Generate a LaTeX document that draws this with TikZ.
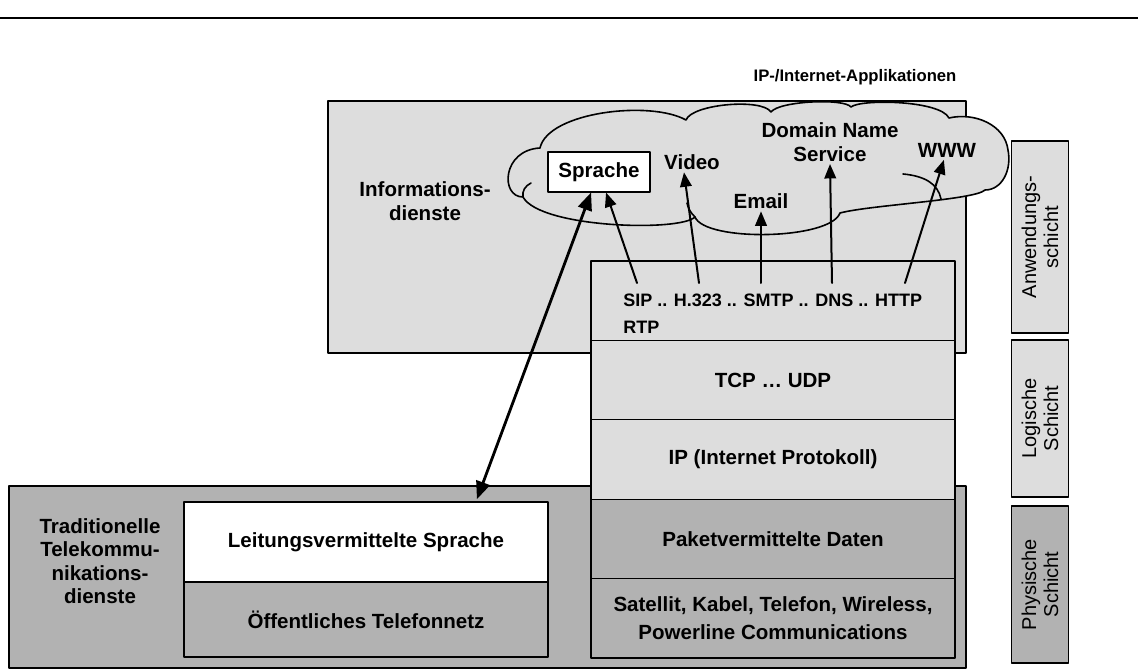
\documentclass[tikz,border=0pt]{standalone}
\usepackage{fontspec}
\setmainfont{Liberation Sans}
\usetikzlibrary{arrows}
\definecolor{schichthell}{HTML}{DDDDDD}
\definecolor{schichtdunkel}{HTML}{B2B2B2}
\begin{document}
\begin{tikzpicture}[line cap=round,line join=round,>=triangle 45,x=0.75pt,y=-0.75pt,
	lbl/.style={font=\fontsize{15.4}{17.5}\selectfont\bfseries,align=center,inner sep=2pt},
	layer/.style={draw,line width=1pt,minimum width=273pt,minimum height=59.55pt,font=\fontsize{15.4}{21}\selectfont\bfseries,align=center},
	sidebox/.style={draw,line width=1pt,rotate=90,minimum height=42.75pt,font=\fontsize{15}{16.5}\selectfont,align=center,inner sep=1pt},
	pfeil/.style={->,line width=1.5pt}]
	\useasboundingbox (0,0) rectangle (1138,670);
	\draw [line width=2pt] (0,18) -- (1138,18);
	\draw [line width=1.2pt,fill=schichthell] (328,101) rectangle (966,353);
	\draw [line width=1.2pt,fill=schichtdunkel] (9,486) rectangle (966,668);
	\draw [line width=1.2pt,fill=schichthell] (523,197) .. controls (500,197) and (502,150) .. (540,148)
		.. controls (548,112) and (650,100) .. (686,120)
		.. controls (692,104) and (762,98) .. (771,112)
		.. controls (779,101) and (844,98) .. (851,107)
		.. controls (860,99) and (940,100) .. (949,118)
		.. controls (975,112) and (1005,125) .. (1008,150)
		.. controls (1012,170) and (1002,190) .. (985,190)
		.. controls (975,200) and (870,205) .. (840,213)
		.. controls (830,240) and (705,242) .. (695,217)
		.. controls (680,232) and (540,228) .. cycle;
	\draw [line width=1.2pt] (903,174) .. controls (925,176) and (938,184) .. (941,199);
	\draw [line width=1.2pt] (695,217) .. controls (690,212) and (688,208) .. (687,203);
	\draw [line width=1.2pt] (523,197) .. controls (522,191) and (525,186) .. (531,183);
	\node[lbl,font=\fontsize{12.5}{15}\selectfont\bfseries] (titel) at (855,77) {IP-/Internet-Applikationen};
	\node[lbl] (infodienste) at (425,201) {Informations-\\dienste};
	\node[lbl,draw,fill=white,line width=1pt,minimum width=76.5pt,minimum height=30pt] (sprache) at (599,172) {Sprache};
	\node[lbl] (video) at (692,162) {Video};
	\node[lbl] (email) at (761,201) {Email};
	\node[lbl] (dns) at (830,142) {Domain Name\\Service};
	\node[lbl] (www) at (947,150) {WWW};
	\node[layer,fill=schichthell] (anw) at (773,300.7) {};
	\node[layer,fill=schichthell] (tcp) at (773,380.1) {TCP … UDP};
	\node[layer,fill=schichthell] (ip) at (773,459.5) {IP (Internet Protokoll)};
	\node[layer,fill=schichtdunkel] (paket) at (773,538.9) {Paketvermittelte Daten};
	\node[layer,fill=schichtdunkel] (medien) at (773,618.3) {Satellit, Kabel, Telefon, Wireless,\\Powerline Communications};
	\node[font=\fontsize{13.5}{20}\selectfont\bfseries,align=left,anchor=north west,inner sep=0pt] (proto) at (623,294) {SIP .. H.323 .. SMTP .. DNS .. HTTP\\RTP};
	\node[layer,fill=white,minimum width=273pt,minimum height=60pt] (leitung) at (366,542) {Leitungsvermittelte Sprache};
	\node[layer,fill=schichtdunkel,minimum width=273pt,minimum height=56.25pt] (telefonnetz) at (366,619.5) {Öffentliches Telefonnetz};
	\node[lbl] (tradition) at (100,561) {Traditionelle\\Telekommu-\\nikations-\\dienste};
	\node[sidebox,fill=schichthell,minimum width=144pt] (anwschicht) at (1040,237) {Anwendungs-\\schicht};
	\node[sidebox,fill=schichthell,minimum width=117.75pt] (logschicht) at (1040,418.5) {Logische\\Schicht};
	\node[sidebox,fill=schichtdunkel,minimum width=117.75pt] (physschicht) at (1040,584.5) {Physische\\Schicht};
	\coordinate (sipfuss) at (637,283);
	\coordinate (h323fuss) at (699,283);
	\coordinate (smtpfuss) at (761,283);
	\coordinate (dnsfuss) at (832,283);
	\coordinate (httpfuss) at (905,283);
	\coordinate (leitungsecke) at (477,499);
	\draw[pfeil] (sipfuss) -- (sprache);
	\draw[pfeil] (h323fuss) -- ([xshift=-6pt]video.south);
	\draw[pfeil] (smtpfuss) -- (email.south);
	\draw[pfeil] (dnsfuss) -- (dns.south);
	\draw[pfeil] (httpfuss) -- (www);
	\draw[<->,line width=2.1pt] (leitungsecke) -- ([xshift=-6pt]sprache.south);
\end{tikzpicture}
\end{document}
